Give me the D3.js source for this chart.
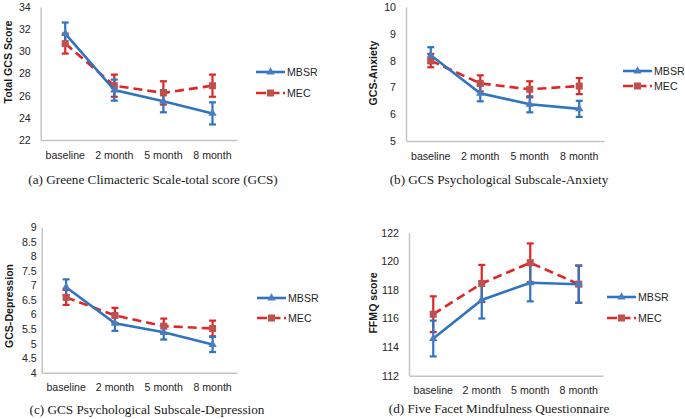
<!DOCTYPE html>
<html><head><meta charset="utf-8">
<script src="https://cdn.jsdelivr.net/npm/d3@7"></script>
<style>body{margin:0;background:#fff}svg{display:block}</style>
</head><body>
<script>
const categories = ["baseline","2 month","5 month","8 month"];
const seriesNames = ["MBSR","MEC"];

// (a) Total GCS
const gcsMBSR = [31.6, 26.5, 25.5, 24.4];
const gcsMBSRerr = [1.0, 0.95, 1.0, 1.0];
const gcsMEC = [30.7, 26.9, 26.25, 26.9];
const gcsMECerr = [0.9, 1.0, 1.05, 1.0];
// (b) Anxiety
const anxMBSR = [8.2, 6.78, 6.37, 6.2];
const anxMBSRerr = [0.3, 0.3, 0.3, 0.3];
const anxMEC = [8.0, 7.15, 6.93, 7.05];
const anxMECerr = [0.25, 0.3, 0.3, 0.3];
// (c) Depression
const depMBSR = [6.94, 5.70, 5.39, 4.97];
const depMBSRerr = [0.27, 0.26, 0.25, 0.26];
const depMEC = [6.59, 5.97, 5.60, 5.52];
const depMECerr = [0.26, 0.26, 0.26, 0.27];
// (d) FFMQ
const ffMBSR = [114.6, 117.3, 118.5, 118.4];
const ffMBSRerr = [1.25, 1.3, 1.3, 1.3];
const ffMEC = [116.3, 118.45, 119.9, 118.4];
const ffMECerr = [1.25, 1.3, 1.35, 1.3];

const ticksA = [22,24,26,28,30,32,34];
const ticksB = [5,6,7,8,9,10];
const ticksC = [4,4.5,5,5.5,6,6.5,7,7.5,8,8.5,9];
const ticksD = [112,114,116,118,120,122];

const yLabels = ["Total GCS Score","GCS-Anxiety","GCS-Depression","FFMQ score"];
const captions = ["(a) Greene Climacteric Scale-total score (GCS)","(b) GCS Psychological Subscale-Anxiety","(c) GCS Psychological Subscale-Depression","(d) Five Facet Mindfulness Questionnaire"];

const BLUE = "#2F74C0", BLUE_M = "#4A7EC0", RED = "#E02626", RED_M = "#C0504D";

const panels = [
  {x0:40.7,x1:237,yT:7,yB:140,ticks:ticksA,pad:10,m:gcsMBSR,me:gcsMBSRerr,c:gcsMEC,ce:gcsMECerr,lab:yLabels[0],labX:8,labY:62,cap:captions[0],capX:153,capY:184,legX:256,legY:[72,93]},
  {x0:406,x1:604,yT:7,yB:141,ticks:ticksB,pad:10,m:anxMBSR,me:anxMBSRerr,c:anxMEC,ce:anxMECerr,lab:yLabels[1],labX:373,labY:73,cap:captions[1],capX:499,capY:184,legX:623,legY:[71,86]},
  {x0:41.7,x1:237,yT:227.3,yB:372.7,ticks:ticksC,pad:5,m:depMBSR,me:depMBSRerr,c:depMEC,ce:depMECerr,lab:yLabels[2],labX:9,labY:306,cap:captions[2],capX:147,capY:414,legX:257,legY:[298,318]},
  {x0:409,x1:603,yT:232.7,yB:375.7,ticks:ticksD,pad:10,m:ffMBSR,me:ffMBSRerr,c:ffMEC,ce:ffMECerr,lab:yLabels[3],labX:373,labY:303,cap:captions[3],capX:499,capY:413,legX:607,legY:[297,318]}
];

const svg = d3.select("body").append("svg").attr("width",685).attr("height",419);
const FONT = "'Liberation Sans', Arial, sans-serif";
const FS = 10.6;
const TXT = "#262626";

panels.forEach(p => {
  const g = svg.append("g");
  const x = d3.scaleBand().domain(categories).range([p.x0,p.x1]);
  const y = d3.scaleLinear().domain(d3.extent(p.ticks)).range([p.yB,p.yT]);

  const yAx = g.append("g").attr("transform",`translate(${p.x0},0)`)
    .call(d3.axisLeft(y).tickValues(p.ticks).tickSize(0).tickPadding(p.pad).tickFormat(d=>String(d)));
  yAx.select(".domain").attr("stroke","#C4C4C4").attr("stroke-width",1.5);
  yAx.selectAll("text").attr("font-family",FONT).attr("font-size",FS).attr("fill",TXT);

  const xAx = g.append("g").attr("transform",`translate(0,${p.yB})`)
    .call(d3.axisBottom(x).tickSize(0).tickPadding(11));
  xAx.select(".domain").attr("stroke","#C4C4C4").attr("stroke-width",1.5);
  xAx.selectAll("text").attr("font-family",FONT).attr("font-size",FS).attr("fill",TXT);

  const cx = d => x(d) + x.bandwidth()/2;

  const series = [
    {v:p.c,e:p.ce,color:RED,mc:RED_M,dash:"9,5",shape:"sq"},
    {v:p.m,e:p.me,color:BLUE,mc:BLUE_M,dash:null,shape:"tri"}
  ];
  series.forEach(s => {
    const eg = g.append("g");
    categories.forEach((cat,i) => {
      const X = cx(cat), y1 = y(s.v[i]+s.e[i]), y2 = y(s.v[i]-s.e[i]);
      eg.append("line").attr("x1",X).attr("x2",X).attr("y1",y1).attr("y2",y2).attr("stroke",s.color).attr("stroke-width",2.2);
      eg.append("line").attr("x1",X-3.5).attr("x2",X+3.5).attr("y1",y1).attr("y2",y1).attr("stroke",s.color).attr("stroke-width",2.2);
      eg.append("line").attr("x1",X-3.5).attr("x2",X+3.5).attr("y1",y2).attr("y2",y2).attr("stroke",s.color).attr("stroke-width",2.2);
    });
  });
  series.forEach(s => {
    const line = d3.line().x((d,i)=>cx(categories[i])).y(d=>y(d));
    const path = g.append("path").datum(s.v).attr("d",line).attr("fill","none")
      .attr("stroke",s.color).attr("stroke-width",2.6);
    if (s.dash) path.attr("stroke-dasharray",s.dash);
    s.v.forEach((v,i) => {
      const X = cx(categories[i]), Y = y(v);
      if (s.shape==="sq") g.append("rect").attr("x",X-3.5).attr("y",Y-3.5).attr("width",7).attr("height",7).attr("fill",s.mc);
      else g.append("path").attr("d",d3.symbol().type(d3.symbolTriangle).size(30)()).attr("transform",`translate(${X},${Y})`).attr("fill",s.mc);
    });
  });

  g.append("text").attr("transform",`translate(${p.labX},${p.labY}) rotate(-90)`)
    .attr("text-anchor","middle").attr("dominant-baseline","central")
    .attr("font-family",FONT).attr("font-weight","bold").attr("font-size",FS).attr("fill","#1a1a1a").text(p.lab);

  const legend = [
    {name:seriesNames[0],color:BLUE,mc:BLUE_M,dash:null,shape:"tri"},
    {name:seriesNames[1],color:RED,mc:RED_M,dash:"9,5",shape:"sq"}
  ];
  legend.forEach((l,i) => {
    const ly = p.legY[i];
    const ln = g.append("line").attr("x1",p.legX).attr("x2",p.legX+29).attr("y1",ly).attr("y2",ly).attr("stroke",l.color).attr("stroke-width",2.6);
    if (l.dash) ln.attr("stroke-dasharray","10,3.5");
    const mx = p.legX+14.5;
    if (l.shape==="sq") g.append("rect").attr("x",mx-3.5).attr("y",ly-3.5).attr("width",7).attr("height",7).attr("fill",l.mc);
    else g.append("path").attr("d",d3.symbol().type(d3.symbolTriangle).size(30)()).attr("transform",`translate(${mx},${ly})`).attr("fill",l.mc);
    g.append("text").attr("x",p.legX+31).attr("y",ly).attr("dominant-baseline","central")
      .attr("font-family",FONT).attr("font-size",FS).attr("fill",TXT).text(l.name);
  });

  g.append("text").attr("x",p.capX).attr("y",p.capY).attr("text-anchor","middle")
    .attr("font-family","'Liberation Serif', 'Times New Roman', serif").attr("font-size",13.2).attr("fill","#1a1a1a").text(p.cap);
});
</script>
</body></html>
